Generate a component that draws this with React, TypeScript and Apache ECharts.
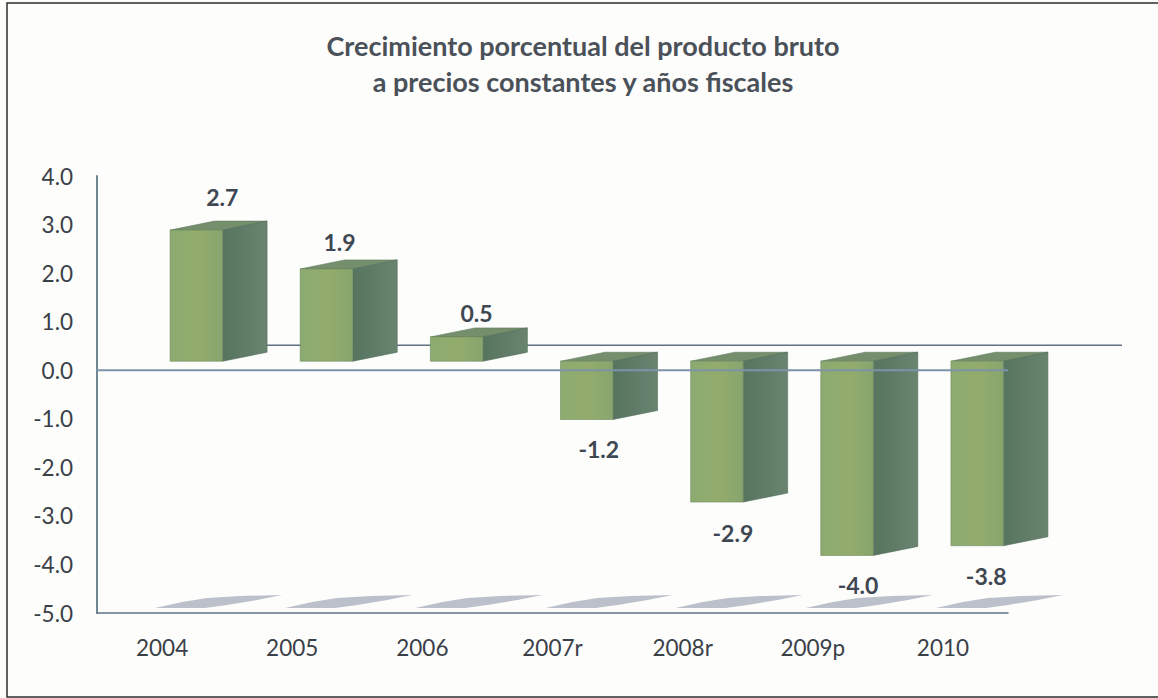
import React, { useEffect, useRef } from "react";
import * as echarts from "echarts";

const categories = ["2004", "2005", "2006", "2007r", "2008r", "2009p", "2010"];
const growth = [2.7, 1.9, 0.5, -1.2, -2.9, -4.0, -3.8];
const titleLines = ["Crecimiento porcentual del producto bruto", "a precios constantes y años fiscales"];

// Hand-placed label nudges of the original, kept apart from the data
const labelNudgeX = [26, 13, 20, 12, 16, 11, 9];
const labelNudgeY = [-24, -18, -15, 30, 31, 30, 30];

const FONT = "Lato, Carlito, 'Open Sans', sans-serif";
const FRONT_LEFT = 8;
const FRONT_W = 52.5;
const DEPTH_X = 44.5;
const DEPTH_Y = 9;
const PLANE_SHIFT = -9;

const frontFill = new echarts.graphic.LinearGradient(0, 0, 1, 0, [
  { offset: 0, color: "#8cab70" },
  { offset: 0.55, color: "#93ac6c" },
  { offset: 1, color: "#87a56e" },
]);
const sideFill = new echarts.graphic.LinearGradient(0, 0, 1, 0, [
  { offset: 0, color: "#56745f" },
  { offset: 1, color: "#6a8470" },
]);

const barsItem = (_p: any, api: any) => {
  const i = api.value(0);
  const v = api.value(1);
  const c0 = api.coord([i, 0]);
  const cv = api.coord([i, v]);
  const x0 = c0[0] + FRONT_LEFT;
  const x1 = x0 + FRONT_W;
  const x2 = x1 + DEPTH_X;
  const yBase = c0[1] + PLANE_SHIFT;
  const yVal = cv[1] + PLANE_SHIFT;
  const yTop = Math.min(yBase, yVal);
  const yBot = Math.max(yBase, yVal);
  const labelX = (x0 + x1) / 2 + labelNudgeX[i];
  const labelY = (v >= 0 ? yTop - DEPTH_Y : yBot) + labelNudgeY[i];
  return {
    type: "group",
    children: [
      {
        type: "polygon",
        shape: { points: [[x0, yTop], [x0 + DEPTH_X, yTop - DEPTH_Y], [x2, yTop - DEPTH_Y], [x1, yTop]] },
        style: { fill: "#758f6d", stroke: "#5f7a60", lineWidth: 0.6 },
      },
      {
        type: "polygon",
        shape: { points: [[x1, yTop], [x2, yTop - DEPTH_Y], [x2, yBot - DEPTH_Y], [x1, yBot]] },
        style: { fill: sideFill, stroke: "#4f6b58", lineWidth: 0.6 },
      },
      {
        type: "rect",
        shape: { x: x0, y: yTop, width: x1 - x0, height: yBot - yTop },
        style: { fill: frontFill, stroke: "#6f8a5e", lineWidth: 0.6 },
      },
      {
        type: "text",
        style: {
          text: v.toFixed(1),
          x: labelX,
          y: labelY,
          textAlign: "center",
          textVerticalAlign: "middle",
          font: `bold 23px ${FONT}`,
          fill: "#3f4852",
        },
      },
    ],
  };
};

const floorItem = (_p: any, api: any) => {
  const c = api.coord([api.value(0), -5]);
  const pts = [[-7, -5], [20, -11], [45, -15], [78, -17], [120, -18], [95, -13], [65, -8], [43, -5]];
  return {
    type: "polygon",
    shape: { points: pts.map((p) => [c[0] + p[0], c[1] + p[1]]) },
    style: { fill: "#bcc0ca" },
  };
};

const backLineItem = (p: any, api: any) => {
  const c = api.coord([0, 0]);
  const sys = p.coordSys;
  return {
    type: "line",
    shape: { x1: c[0] + FRONT_LEFT + FRONT_W, y1: c[1] - 25, x2: sys.x + sys.width + 114, y2: c[1] - 25 },
    style: { stroke: "#5f7180", lineWidth: 1.5 },
  };
};

const zeroLineItem = (p: any, api: any) => {
  const c = api.coord([0, 0]);
  const sys = p.coordSys;
  return {
    type: "line",
    shape: { x1: sys.x, y1: c[1], x2: sys.x + sys.width, y2: c[1] },
    style: { stroke: "#7d93a8", lineWidth: 2 },
  };
};

export default function App() {
  const ref = useRef<HTMLDivElement>(null);
  useEffect(() => {
    document.body.style.margin = "0";
    document.body.style.background = "#fdfdfc";
    const chart = echarts.init(ref.current!, null, { renderer: "svg" });
    const seriesData = categories.map((_, i) => [i, growth[i]]);
    chart.setOption({
      animation: false,
      backgroundColor: "#fdfdfc",
      grid: { left: 97, top: 176, width: 911, height: 437 },
      graphic: [
        {
          type: "polyline",
          shape: { points: [[1158, 3], [7, 3], [7, 697], [1158, 697]] },
          style: { stroke: "#2e2e2e", lineWidth: 1.5, fill: "none" },
          z: 0,
        },
        ...titleLines.map((t, i) => ({
          type: "text",
          x: 583,
          y: 45 + i * 36,
          style: {
            text: t,
            textAlign: "center",
            textVerticalAlign: "middle",
            font: `bold 27px ${FONT}`,
            fill: "#4b5159",
          },
        })),
      ],
      xAxis: {
        type: "category",
        data: categories,
        position: "bottom",
        axisLine: { onZero: false, lineStyle: { color: "#5f7180", width: 1.5 } },
        axisTick: { show: false },
        axisLabel: { color: "#3a4048", fontFamily: FONT, fontSize: 22.5, margin: 23 },
      },
      yAxis: {
        type: "value",
        min: -5,
        max: 4,
        interval: 1,
        splitLine: { show: false },
        axisLine: { show: true, lineStyle: { color: "#6f8795", width: 2 } },
        axisTick: { show: false },
        axisLabel: {
          color: "#3a4048",
          fontFamily: FONT,
          fontSize: 22.5,
          margin: 24,
          formatter: (v: number) => v.toFixed(1),
        },
      },
      series: [
        { type: "custom", name: "floor", z: 1, renderItem: floorItem, data: seriesData, silent: true },
        { type: "custom", name: "back", z: 1, renderItem: backLineItem, data: [[0, 0]], silent: true },
        { type: "custom", name: "Crecimiento", z: 2, renderItem: barsItem, data: seriesData },
        { type: "custom", name: "zero", z: 3, renderItem: zeroLineItem, data: [[0, 0]], silent: true },
      ],
    });
    return () => chart.dispose();
  }, []);
  return <div ref={ref} style={{ width: 1158, height: 698 }} />;
}
